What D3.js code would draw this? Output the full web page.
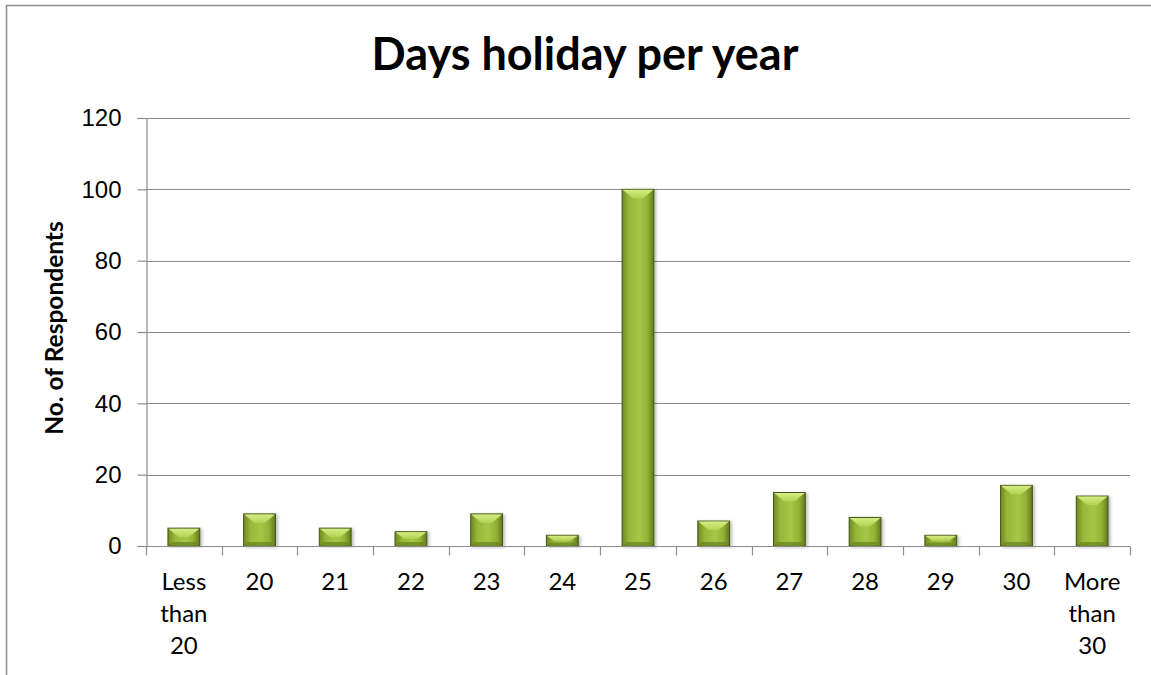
<!DOCTYPE html>
<html>
<head>
<meta charset="utf-8">
<script src="https://cdn.jsdelivr.net/npm/d3@7"></script>
<style>
  body { margin: 0; background: #fff; }
  svg { display: block; font-family: Lato, "Open Sans", sans-serif; }
</style>
</head>
<body>
<div id="chart"></div>
<script>
const width = 1151;
const height = 675;

// data
const categories = ["Less than 20", "20", "21", "22", "23", "24", "25", "26", "27", "28", "29", "30", "More than 30"];
const respondents = [5, 9, 5, 4, 9, 3, 100, 7, 15, 8, 3, 17, 14];
const yTicks = [0, 20, 40, 60, 80, 100, 120];

const margin = {top: 118, right: 21, bottom: 129, left: 146};

const svg = d3.select("#chart").append("svg")
    .attr("width", width)
    .attr("height", height);

// chart frame (runs off the right and bottom edges)
svg.append("rect")
    .attr("x", 6.5).attr("y", 5.5)
    .attr("width", width + 10).attr("height", height + 10)
    .attr("fill", "none")
    .attr("stroke", "#8c8c8c")
    .attr("stroke-width", 1.5);

const defs = svg.append("defs");
const body = defs.append("linearGradient").attr("id", "body").attr("x1", 0).attr("x2", 1);
body.append("stop").attr("offset", "0%").attr("stop-color", "#6f8a22");
body.append("stop").attr("offset", "22%").attr("stop-color", "#98b83a");
body.append("stop").attr("offset", "55%").attr("stop-color", "#a6c646");
body.append("stop").attr("offset", "80%").attr("stop-color", "#93b236");
body.append("stop").attr("offset", "100%").attr("stop-color", "#5f7a1c");

const topFace = defs.append("linearGradient").attr("id", "topface").attr("x1", 0).attr("x2", 0).attr("y1", 0).attr("y2", 1);
topFace.append("stop").attr("offset", "0%").attr("stop-color", "#d6ec84");
topFace.append("stop").attr("offset", "100%").attr("stop-color", "#b2d254");

const shadow = defs.append("filter").attr("id", "shadow").attr("x", "-20%").attr("width", "150%");
shadow.append("feDropShadow").attr("dx", 2).attr("dy", 1).attr("stdDeviation", 1.5)
    .attr("flood-color", "#000").attr("flood-opacity", 0.25);

const x = d3.scaleBand()
    .domain(categories)
    .range([margin.left, width - margin.right])
    .paddingInner(0.58)
    .paddingOuter(0.29);

const y = d3.scaleLinear()
    .domain([0, 120])
    .range([height - margin.bottom, margin.top]);

// gridlines
svg.append("g")
    .selectAll("line")
    .data(yTicks.filter(d => d > 0))
    .join("line")
    .attr("x1", margin.left).attr("x2", width - margin.right)
    .attr("y1", d => Math.round(y(d)) + 0.5).attr("y2", d => Math.round(y(d)) + 0.5)
    .attr("stroke", "#8c8c8c")
    .attr("stroke-width", 1.2);

// y axis
const yAxis = svg.append("g")
    .attr("transform", `translate(${margin.left + 0.5},0)`)
    .call(d3.axisLeft(y).tickValues(yTicks).tickSize(9).tickPadding(16));
yAxis.select(".domain").attr("stroke", "#8c8c8c").attr("stroke-width", 1.2);
yAxis.selectAll(".tick line").attr("stroke", "#8c8c8c").attr("stroke-width", 1.2);
yAxis.selectAll(".tick text").attr("font-size", 24).attr("fill", "#000");

// bars
const bars = svg.append("g")
    .selectAll("g")
    .data(categories.map((c, i) => ({cat: c, value: respondents[i]})))
    .join("g")
    .attr("filter", "url(#shadow)");

const bw = x.bandwidth();
bars.append("rect")
    .attr("x", d => x(d.cat))
    .attr("y", d => y(d.value))
    .attr("width", bw)
    .attr("height", d => y(0) - y(d.value))
    .attr("fill", "url(#body)")
    .attr("stroke", "#435617")
    .attr("stroke-width", 1);

// bevel: top face
bars.append("path")
    .attr("d", d => {
        const x0 = x(d.cat), x1 = x0 + bw, y0 = y(d.value);
        const h = y(0) - y0;
        const b = Math.min(9, h / 2);
        return `M${x0 + 0.5},${y0 + 0.5} L${x1 - 0.5},${y0 + 0.5} L${x1 - b - 2},${y0 + b} L${x0 + b + 2},${y0 + b} Z`;
    })
    .attr("fill", "url(#topface)");

// bevel: bottom face
bars.append("path")
    .attr("d", d => {
        const x0 = x(d.cat), x1 = x0 + bw, y0 = y(d.value), yb = y(0);
        const b = Math.min(4, (yb - y0) / 3);
        return `M${x0 + 0.5},${yb - 0.5} L${x1 - 0.5},${yb - 0.5} L${x1 - b},${yb - b} L${x0 + b},${yb - b} Z`;
    })
    .attr("fill", "#6d8923")
    .attr("opacity", 0.8);

// x axis
const xAxis = svg.append("g")
    .attr("transform", `translate(0,${Math.round(y(0)) + 0.5})`);
xAxis.append("line")
    .attr("x1", margin.left).attr("x2", width - margin.right)
    .attr("stroke", "#8c8c8c").attr("stroke-width", 1.2);
const step = x.step();
xAxis.selectAll("line.tick")
    .data(d3.range(categories.length + 1))
    .join("line")
    .attr("class", "tick")
    .attr("x1", i => Math.round(margin.left + i * step) + 0.5)
    .attr("x2", i => Math.round(margin.left + i * step) + 0.5)
    .attr("y1", 0).attr("y2", 9)
    .attr("stroke", "#8c8c8c").attr("stroke-width", 1.2);

const xLabels = xAxis.selectAll("text")
    .data(categories)
    .join("text")
    .attr("x", d => x(d) + bw / 2)
    .attr("y", 43)
    .attr("text-anchor", "middle")
    .attr("font-size", 24)
    .attr("fill", "#000");
xLabels.each(function(d) {
    const words = d.split(" ");
    const t = d3.select(this);
    words.forEach((w, i) => {
        t.append("tspan").attr("x", x(d) + bw / 2).attr("dy", i === 0 ? 0 : 32).text(w);
    });
});

// y axis title
svg.append("text")
    .attr("transform", `translate(63,${(y(0) + y(120)) / 2 - 4}) rotate(-90)`)
    .attr("text-anchor", "middle")
    .attr("font-size", 24.5)
    .attr("font-weight", "bold")
    .text("No. of Respondents");

// chart title
svg.append("text")
    .attr("x", 585)
    .attr("y", 70)
    .attr("text-anchor", "middle")
    .attr("font-size", 45)
    .attr("font-weight", "bold")
    .text("Days holiday per year");
</script>
</body>
</html>
